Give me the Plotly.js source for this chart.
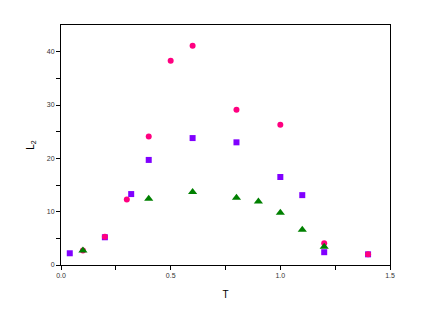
<!DOCTYPE html>
<html>
<head>
<meta charset="utf-8">
<script src="https://cdn.plot.ly/plotly-3.0.1.min.js"></script>
<style>html,body{margin:0;padding:0;background:#fff;}#chart{width:422px;height:326px;}</style>
</head>
<body>
<div id="chart"></div>
<script>
var purpleT = [0.04, 0.2, 0.32, 0.4, 0.6, 0.8, 1.0, 1.1, 1.2, 1.4];
var purpleL = [2.2, 5.2, 13.3, 19.7, 23.8, 23.0, 16.5, 13.1, 2.4, 2.0];
var pinkT = [0.1, 0.2, 0.3, 0.4, 0.5, 0.6, 0.8, 1.0, 1.2, 1.4];
var pinkL = [2.7, 5.3, 12.3, 24.1, 38.3, 41.1, 29.1, 26.3, 4.1, 2.0];
var greenT = [0.1, 0.4, 0.6, 0.8, 0.9, 1.0, 1.1, 1.2];
var greenL = [2.7, 12.4, 13.7, 12.6, 11.9, 9.8, 6.6, 3.4];
var xTicks = [0, 0.5, 1.0, 1.5];
var xTickText = ['0.0', '0.5', '1.0', '1.5'];
var yTicks = [0, 10, 20, 30, 40];

var traces = [
  {x: purpleT, y: purpleL, type: 'scatter', mode: 'markers',
   marker: {symbol: 'square', size: 6, color: '#8000ff'}},
  {x: pinkT, y: pinkL, type: 'scatter', mode: 'markers',
   marker: {symbol: 'circle', size: 6, color: '#ff0080'}},
  {x: greenT, y: greenL, type: 'scatter', mode: 'markers',
   marker: {symbol: 'triangle-up', size: 8, color: '#008000'}}
];

var axisCommon = {
  showgrid: false, zeroline: false, showline: true, linecolor: '#000', linewidth: 1,
  mirror: true, ticks: 'outside', ticklen: 4, tickwidth: 1, tickcolor: '#000',
  tickfont: {family: 'Liberation Sans, Arial, sans-serif', size: 7, color: '#333'}
};

var layout = {
  width: 422, height: 326,
  margin: {l: 61, r: 32, t: 25, b: 61},
  paper_bgcolor: '#fff', plot_bgcolor: '#fff',
  showlegend: false,
  xaxis: Object.assign({}, axisCommon, {
    range: [0, 1.5], tickvals: xTicks, ticktext: xTickText,
    minor: {tickvals: [0.25, 0.75, 1.25], ticks: 'outside', ticklen: 4, tickcolor: '#000'},
    title: {text: 'T', font: {family: 'Liberation Sans, Arial, sans-serif', size: 10, color: '#000'}, standoff: 12}
  }),
  yaxis: Object.assign({}, axisCommon, {
    range: [0, 45], tickvals: yTicks,
    minor: {tickvals: [5, 15, 25, 35], ticks: 'outside', ticklen: 4, tickcolor: '#000'},
    title: {text: 'L<sub>2</sub>', font: {family: 'Liberation Sans, Arial, sans-serif', size: 10, color: '#000'}, standoff: 10}
  })
};

Plotly.newPlot('chart', traces, layout, {displayModeBar: false, staticPlot: true});
</script>
</body>
</html>
